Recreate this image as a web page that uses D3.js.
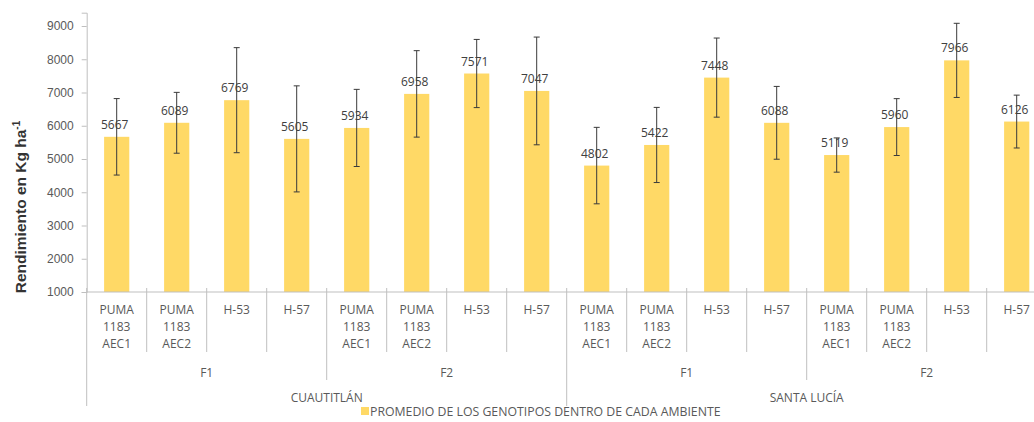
<!DOCTYPE html>
<html>
<head>
<meta charset="utf-8">
<script src="https://cdn.jsdelivr.net/npm/d3@7"></script>
<style>
  body{margin:0;background:#fff;}
  svg{display:block;font-family:"Open Sans",sans-serif;}
  .tick text{fill:#595959;}
</style>
</head>
<body>
<svg width="1034" height="422"></svg>
<script>
// datos
const genotipos=[['PUMA','1183','AEC1'],['PUMA','1183','AEC2'],['H-53'],['H-57']];
const fases=['F1','F2'];
const ambientes=['CUAUTITLÁN','SANTA LUCÍA'];
const promedios=[5667,6089,6769,5605,5934,6958,7571,7047,4802,5422,7448,6088,5119,5960,7966,6126];
const errores=[1150,915,1580,1595,1160,1300,1025,1620,1150,1130,1190,1095,515,855,1115,795];
const yTicks=[1000,2000,3000,4000,5000,6000,7000,8000,9000];
const leyenda='PROMEDIO DE LOS GENOTIPOS DENTRO DE CADA AMBIENTE';

const svg=d3.select('svg');
const x0=86.7, base=292;

// cada barra = ambiente x fase x genotipo
const data=[];
ambientes.forEach((a,ai)=>fases.forEach((f,fi)=>genotipos.forEach((g,gi)=>{
  const i=ai*8+fi*4+gi;
  data.push({id:i,amb:a,fase:f,gen:g,v:promedios[i],e:errores[i]});
})));

const xScale=d3.scaleBand()
  .domain(data.map(d=>d.id))
  .range([x0,x0+16*60])
  .paddingInner(0.58)
  .paddingOuter(0.29);
const step=xScale.step();
const yScale=d3.scaleLinear().domain([1000,9400]).range([base,12.7]);

/* y-axis */
const yAxis=d3.axisLeft(yScale).tickValues(yTicks).tickSize(5).tickPadding(8).tickFormat(d3.format('d'));
svg.append('g')
  .attr('transform',`translate(${x0},0)`)
  .call(yAxis)
  .call(g=>g.selectAll('line').attr('stroke','#bfbfbf'))
  .call(g=>g.select('.domain').attr('stroke','#bfbfbf'))
  .call(g=>g.selectAll('text').attr('font-size',12).attr('fill','#595959'));

// titulo eje y
const yt=svg.append('text')
  .attr('transform','translate(26,207) rotate(-90)')
  .attr('text-anchor','middle')
  .attr('font-family','"Liberation Sans",Arial,sans-serif')
  .attr('font-size',15.5)
  .attr('font-weight','bold')
  .attr('fill','#333');
yt.append('tspan').text('Rendimiento en Kg ha');
yt.append('tspan').text('-1').attr('font-size',10).attr('dy',-6);

/* barras */
svg.append('g').selectAll('rect')
  .data(data)
  .join('rect')
  .attr('x',d=>xScale(d.id))
  .attr('width',xScale.bandwidth())
  .attr('y',d=>yScale(d.v))
  .attr('height',d=>base-yScale(d.v))
  .attr('fill','#ffd966');

// barras de error
const eb=svg.append('g').attr('stroke','#3a3a3a').attr('stroke-width',1);
data.forEach(d=>{
  const cx=xScale(d.id)+xScale.bandwidth()/2;
  const t=yScale(d.v+d.e), b=yScale(d.v-d.e);
  eb.append('line').attr('x1',cx).attr('x2',cx).attr('y1',t).attr('y2',b);
  eb.append('line').attr('x1',cx-3).attr('x2',cx+3).attr('y1',t).attr('y2',t);
  eb.append('line').attr('x1',cx-3).attr('x2',cx+3).attr('y1',b).attr('y2',b);
});

// etiquetas de valor
svg.append('g').selectAll('text')
  .data(data)
  .join('text')
  .attr('x',d=>xScale(d.id)+xScale.bandwidth()/2-2)
  .attr('y',d=>yScale(d.v)-8)
  .attr('text-anchor','middle')
  .attr('font-size',12)
  .attr('fill','#404040')
  .text(d=>d.v);

/* eje x multinivel */
const ax=svg.append('g').attr('stroke','#bfbfbf').attr('stroke-width',1);
ax.append('line').attr('x1',x0).attr('x2',x0+16*step).attr('y1',base).attr('y2',base);
for(let i=0;i<=16;i++){
  const xx=x0+i*step;
  const y2= i%8==0 ? 406 : (i%4==0 ? 380 : 352);
  ax.append('line').attr('x1',xx).attr('x2',xx).attr('y1',base-4).attr('y2',y2);
}
const lab=svg.append('g').attr('fill','#595959').attr('font-size',12).attr('text-anchor','middle');
data.forEach(d=>{
  const cx=xScale(d.id)+xScale.bandwidth()/2;
  d.gen.forEach((s,k)=>lab.append('text').attr('x',cx).attr('y',314+k*17).text(s));
});
ambientes.forEach((a,ai)=>{
  fases.forEach((f,fi)=>{
    lab.append('text').attr('x',x0+(ai*8+fi*4+2)*step).attr('y',377).text(f);
  });
  lab.append('text').attr('x',x0+(ai*8+4)*step).attr('y',402).text(a);
});

// leyenda
svg.append('rect').attr('x',361).attr('y',407).attr('width',8).attr('height',8).attr('fill','#ffd966');
svg.append('text').attr('x',370).attr('y',416).attr('font-size',12.3).attr('fill','#595959').text(leyenda);
</script>
</body>
</html>
